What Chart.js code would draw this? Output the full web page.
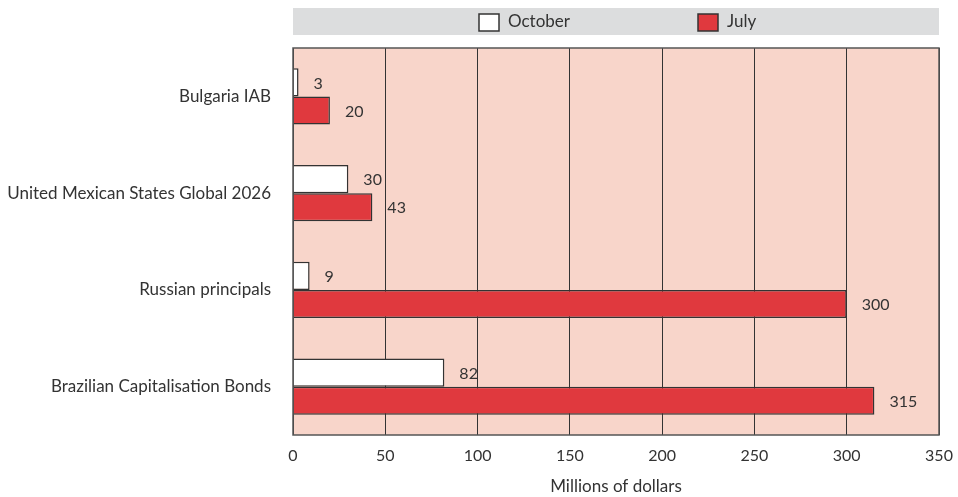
<!DOCTYPE html>
<html>
<head>
<meta charset="utf-8">
<script src="https://cdn.jsdelivr.net/npm/chart.js@4.4.1/dist/chart.umd.min.js"></script>
<style>
  html, body { margin: 0; padding: 0; background: #fff; }
  #wrap { width: 958px; height: 497px; }
</style>
</head>
<body>
<div id="wrap"><canvas id="myChart"></canvas></div>
<script>
// bonds and holdings, millions of dollars
const bonds = ['Bulgaria IAB', 'United Mexican States Global 2026', 'Russian principals', 'Brazilian Capitalisation Bonds'];
const october = [3, 30, 9, 82];
const july = [20, 43, 300, 315];
const xTicks = [0, 50, 100, 150, 200, 250, 300, 350];

const FONT = 'Lato, "Open Sans", sans-serif';
const INK = '#333333';

// pink plot background plus the outline around it
const plotFrame = {
  id: 'plotFrame',
  beforeDraw(chart) {
    const { ctx, chartArea: a } = chart;
    ctx.save();
    ctx.fillStyle = '#f8d5ca';
    ctx.fillRect(a.left, a.top, a.right - a.left, a.bottom - a.top);
    ctx.restore();
  },
  afterDraw(chart) {
    const { ctx, chartArea: a } = chart;
    ctx.save();
    ctx.strokeStyle = '#555';
    ctx.lineWidth = 1.5;
    ctx.strokeRect(a.left, a.top, a.right - a.left, a.bottom - a.top);
    ctx.restore();
  }
};

// grey legend strip above the plot
const legendStrip = {
  id: 'legendStrip',
  afterDraw(chart) {
    const { ctx, chartArea: a } = chart;
    ctx.save();
    ctx.fillStyle = '#dcddde';
    ctx.fillRect(a.left, 8, a.right - a.left, 27);
    const xs = [479, 698];
    ctx.font = '17px ' + FONT;
    ctx.textBaseline = 'middle';
    chart.data.datasets.forEach((ds, i) => {
      ctx.fillStyle = ds.backgroundColor;
      ctx.strokeStyle = INK;
      ctx.lineWidth = 1.5;
      ctx.fillRect(xs[i], 14, 20, 17);
      ctx.strokeRect(xs[i], 14, 20, 17);
      ctx.fillStyle = INK;
      ctx.fillText(ds.label, xs[i] + 29, 22);
    });
    ctx.restore();
  }
};

// value written just past the end of each bar
const barValues = {
  id: 'barValues',
  afterDatasetsDraw(chart) {
    const { ctx } = chart;
    ctx.save();
    ctx.font = '16px ' + FONT;
    ctx.fillStyle = INK;
    ctx.textBaseline = 'middle';
    chart.data.datasets.forEach((ds, i) => {
      chart.getDatasetMeta(i).data.forEach((bar, j) => {
        ctx.fillText(ds.data[j], bar.x + 15, bar.y + 1);
      });
    });
    ctx.restore();
  }
};

new Chart(document.getElementById('myChart'), {
  type: 'bar',
  data: {
    labels: bonds,
    datasets: [
      {
        label: 'October',
        data: october,
        backgroundColor: '#ffffff',
        borderColor: INK,
        borderWidth: 1.5
      },
      {
        label: 'July',
        data: july,
        backgroundColor: '#e0393e',
        borderColor: INK,
        borderWidth: 1.5
      }
    ]
  },
  options: {
    indexAxis: 'y',
    responsive: true,
    maintainAspectRatio: false,
    animation: false,
    layout: { padding: { top: 48, right: 19, left: 0, bottom: 0 } },
    datasets: {
      bar: { barPercentage: 1, categoryPercentage: 0.58 }
    },
    plugins: {
      legend: { display: false },
      tooltip: { enabled: false }
    },
    scales: {
      x: {
        min: 0,
        max: 350,
        afterBuildTicks: s => { s.ticks = xTicks.map(v => ({ value: v })); },
        afterFit: s => { s.height = 62; s.paddingLeft = 0; s.paddingRight = 0; },
        grid: { color: INK, lineWidth: 1, drawTicks: false },
        border: { display: false },
        ticks: { color: INK, font: { family: FONT, size: 16 }, padding: 11 },
        title: {
          display: true,
          text: 'Millions of dollars',
          color: INK,
          font: { family: FONT, size: 17 },
          padding: { top: 8, bottom: 0 }
        }
      },
      y: {
        afterFit: s => { s.width = 293; },
        grid: { display: false, drawTicks: false },
        border: { display: false },
        ticks: { color: INK, font: { family: FONT, size: 17 }, padding: 22 }
      }
    }
  },
  plugins: [plotFrame, legendStrip, barValues]
});
</script>
</body>
</html>
